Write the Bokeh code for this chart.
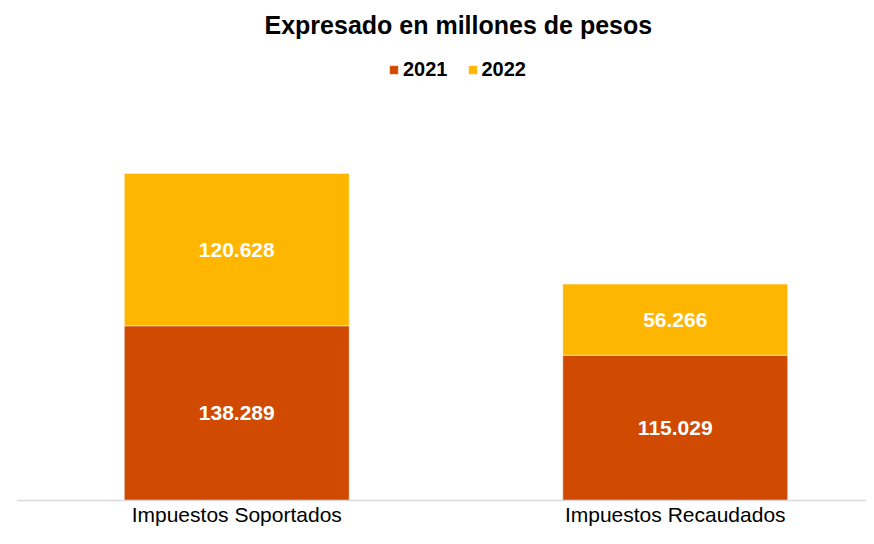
from bokeh.plotting import figure
from bokeh.models import ColumnDataSource, Range1d, FixedTicker, Legend, LegendItem
from bokeh.core.properties import value
from bokeh.embed import file_html
from bokeh.resources import INLINE

# ---- data ----
categories = ["Impuestos Soportados", "Impuestos Recaudados"]
series_names = ["2021", "2022"]
values_2021 = [138289, 115029]
values_2022 = [120628, 56266]
colors = ["#D04A02", "#FFB600"]
title_text = "Expresado en millones de pesos"

FONT = "Liberation Sans"

def fmt(v):
    return f"{v:,}".replace(",", ".")

xpos = [i + 0.5 for i in range(len(categories))]
src = ColumnDataSource(dict(
    x=xpos,
    cat=categories,
    y2021=values_2021,
    y2022=values_2022,
    mid2021=[a / 2 for a in values_2021],
    mid2022=[a + b / 2 for a, b in zip(values_2021, values_2022)],
    lab2021=[fmt(v) for v in values_2021],
    lab2022=[fmt(v) for v in values_2022],
))

FIG_W, FIG_H = 866, 528
BORDER_L, BORDER_T, BORDER_B = 17, 42, 28
FRAME_W = FIG_W - BORDER_L
FRAME_H = FIG_H - BORDER_T - BORDER_B
PX_PER_UNIT = 330 / (values_2021[0] + values_2022[0])
y_end = FRAME_H / PX_PER_UNIT

p = figure(width=FIG_W, height=FIG_H, output_backend="svg", toolbar_location=None,
           x_range=Range1d(0, FRAME_W / 438.5), y_range=Range1d(0, y_end),
           min_border_left=BORDER_L, min_border_right=0, min_border_bottom=BORDER_B,
           min_border_top=BORDER_T)
p.outline_line_color = None
p.xgrid.visible = False
p.ygrid.visible = False
p.yaxis.visible = False
p.background_fill_color = "white"
p.border_fill_color = "white"

# title
p.title.text = title_text
p.title.align = "left"
p.title.offset = 247
p.title.standoff = 16
p.title.text_line_height = 1.0
p.title.text_font = FONT
p.title.text_font_size = "25px"
p.title.text_font_style = "bold"
p.title.text_color = "#000000"

renderers = p.vbar_stack(["y2021", "y2022"], x="x", width=0.513, color=colors,
                         line_color="white", line_alpha=0.5, line_width=1,
                         source=src)

# value labels
for col, lab in (("mid2021", "lab2021"), ("mid2022", "lab2022")):
    p.text(x="x", y=col, text=lab, source=src, text_align="center",
           text_baseline="middle", text_color="white",
           text_font=value(FONT), text_font_size="21px", text_font_style="bold")

# x axis
ax = p.xaxis[0]
ax.ticker = FixedTicker(ticks=xpos)
ax.major_label_overrides = {x: c for x, c in zip(xpos, categories)}
ax.axis_line_color = "#D9D9D9"
ax.axis_line_width = 1.5
ax.major_tick_line_color = None
ax.minor_tick_line_color = None
ax.major_tick_out = 0
ax.major_tick_in = 0
ax.minor_tick_out = 0
ax.minor_tick_in = 0
ax.axis_label = None
ax.axis_label_standoff = 0
ax.major_label_text_font = FONT
ax.major_label_text_font_size = "21px"
ax.major_label_text_color = "#000000"
ax.major_label_standoff = 2

legend = Legend(items=[LegendItem(label=n, renderers=[r]) for n, r in zip(series_names, renderers)],
                orientation="horizontal", location=(371, 419),
                glyph_width=11, glyph_height=11, label_standoff=4, spacing=19,
                padding=0, margin=0, border_line_color=None,
                background_fill_alpha=0,
                label_text_font=FONT, label_text_font_size="20px",
                label_text_font_style="bold", label_text_color="#000000")
p.add_layout(legend, "center")

open("out.html", "w").write(file_html(p, INLINE))
